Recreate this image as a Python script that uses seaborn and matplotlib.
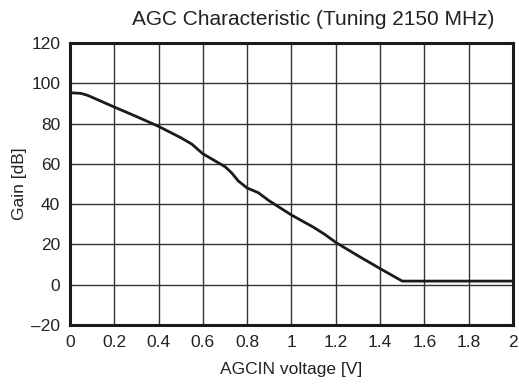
import matplotlib
matplotlib.use("Agg")
import matplotlib.pyplot as plt
import seaborn as sns
import pandas as pd

# values
voltage = [0.0, 0.05, 0.08, 0.2, 0.3, 0.4, 0.5, 0.55, 0.6, 0.65, 0.7, 0.73, 0.76, 0.8, 0.85,
           0.9, 1.0, 1.1, 1.15, 1.2, 1.3, 1.4, 1.5, 1.6, 1.8, 2.0]
gain = [95.3, 95.0, 94.0, 88.2, 83.5, 78.6, 73.0, 69.8, 65.0, 61.8, 58.6, 55.5, 51.5, 48.0, 45.7,
        41.6, 34.6, 28.5, 25.0, 21.0, 14.4, 8.0, 1.8, 1.8, 1.8, 1.8]

x_ticks = [0, 0.2, 0.4, 0.6, 0.8, 1, 1.2, 1.4, 1.6, 1.8, 2]
x_labels = ["0", "0.2", "0.4", "0.6", "0.8", "1", "1.2", "1.4", "1.6", "1.8", "2"]
y_ticks = [-20, 0, 20, 40, 60, 80, 100, 120]
y_labels = ["\u201320", "0", "20", "40", "60", "80", "100", "120"]

df = pd.DataFrame({"voltage": voltage, "gain": gain})

sns.set_style("white")
plt.rcParams["font.family"] = ["Liberation Sans", "DejaVu Sans"]

fig = plt.figure(figsize=(5.19, 3.85), dpi=100)
ax = fig.add_axes([0.1349, 0.1558, 0.8535, 0.7325])

sns.lineplot(data=df, x="voltage", y="gain", ax=ax, color="#1a1a1a", linewidth=2.0)

ax.set_xlim(0, 2)
ax.set_ylim(-20, 120)
ax.set_xticks(x_ticks)
ax.set_xticklabels(x_labels)
ax.set_yticks(y_ticks)
ax.set_yticklabels(y_labels)
ax.tick_params(length=0, labelsize=12.5, colors="#222222", pad=7)
ax.grid(True, color="#333333", linewidth=1.0)
for s in ax.spines.values():
    s.set_visible(True)
    s.set_color("#1a1a1a")
    s.set_linewidth(2.2)

ax.set_xlabel("AGCIN voltage [V]", fontsize=12.5, labelpad=9, color="#222222")
ax.set_ylabel("Gain [dB]", fontsize=12.5, labelpad=3, color="#222222")
ax.set_title("AGC Characteristic (Tuning 2150 MHz)", fontsize=15, x=0.55, pad=13,
             color="#222222")

fig.savefig("out.png", dpi=100)
